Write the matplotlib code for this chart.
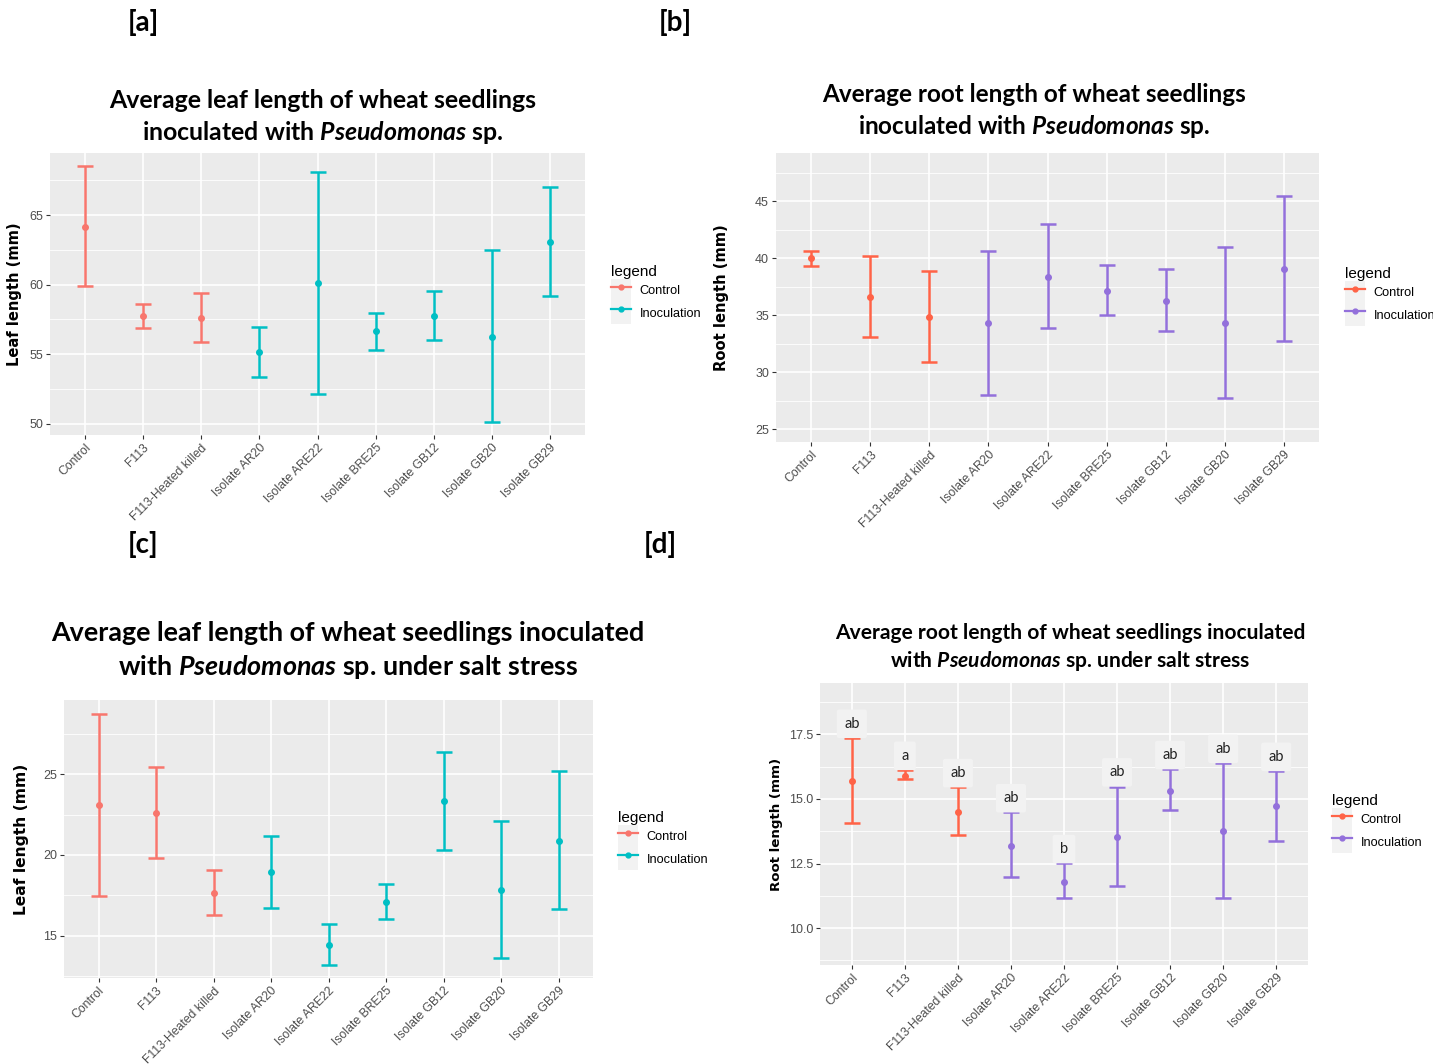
import matplotlib
matplotlib.use("Agg")
import matplotlib.pyplot as plt
import numpy as np
from matplotlib.legend_handler import HandlerLine2D
from matplotlib.lines import Line2D
from matplotlib.patches import Rectangle

plt.rcParams["mathtext.fontset"] = "custom"
plt.rcParams["mathtext.rm"] = "Lato:bold"
plt.rcParams["mathtext.it"] = "Lato:italic:bold"
plt.rcParams["mathtext.bf"] = "Lato:bold"

categories = ["Control", "F113", "F113-Heated killed", "Isolate AR20", "Isolate ARE22",
              "Isolate BRE25", "Isolate GB12", "Isolate GB20", "Isolate GB29"]
groups = ["Control"] * 3 + ["Inoculation"] * 6

# [a] leaf length, no stress
leaf_mean = [64.14, 57.73, 57.63, 55.14, 60.10, 56.63, 57.73, 56.20, 63.04]
leaf_low = [59.93, 56.87, 55.89, 53.35, 52.13, 55.31, 56.03, 50.10, 59.21]
leaf_high = [68.54, 58.64, 59.43, 56.96, 68.13, 57.97, 59.57, 62.46, 66.99]

# [b] root length, no stress
root_mean = [40.00, 36.65, 34.86, 34.34, 38.38, 37.11, 36.30, 34.34, 39.08]
root_low = [39.31, 33.12, 30.95, 28.06, 33.93, 35.00, 33.64, 27.72, 32.75]
root_high = [40.69, 40.20, 38.87, 40.69, 43.03, 39.39, 39.08, 41.01, 45.46]

# [c] leaf length, salt stress
salt_leaf_mean = [23.09, 22.60, 17.65, 18.92, 14.40, 17.09, 23.34, 17.81, 20.89]
salt_leaf_low = [17.48, 19.80, 16.25, 16.70, 13.15, 16.03, 20.30, 13.58, 16.64]
salt_leaf_high = [28.76, 25.45, 19.09, 21.16, 15.70, 18.22, 26.38, 22.08, 25.21]

# [d] root length, salt stress
salt_root_mean = [15.71, 15.90, 14.50, 13.17, 11.80, 13.52, 15.32, 13.74, 14.72]
salt_root_low = [14.08, 15.76, 13.59, 11.96, 11.15, 11.64, 14.56, 11.15, 13.38]
salt_root_high = [17.36, 16.12, 15.45, 14.48, 12.51, 15.48, 16.15, 16.39, 16.08]
salt_root_letters = ["ab", "a", "ab", "ab", "b", "ab", "ab", "ab", "ab"]

teal = {"Control": "#F8766D", "Inoculation": "#00BFC4"}
purple = {"Control": "#FF6347", "Inoculation": "#9370DB"}

NARROW = ["Liberation Sans", "DejaVu Sans"]

W, H = 1433, 1064
fig = plt.figure(figsize=(W / 100, H / 100), dpi=100)


def fx(px):
    return px / W


def fy(py):
    return 1 - py / H


class KeyHandler(HandlerLine2D):
    def create_artists(self, legend, orig_handle, xdescent, ydescent, width, height, fontsize, trans):
        bg = Rectangle((-xdescent, -ydescent), width, height, facecolor="#F2F2F2",
                       edgecolor="none", transform=trans)
        return [bg] + super().create_artists(legend, orig_handle, xdescent, ydescent,
                                             width, height, fontsize, trans)


def panel(box, mean, low, high, colors, ylim, yticks, ylabel, label_x, label_size, legend_xy):
    left, top, right, bottom = box
    ax = fig.add_axes([fx(left), fy(bottom), fx(right - left), (bottom - top) / H])
    ax.set_facecolor("#EBEBEB")
    x = np.arange(1, len(categories) + 1)
    mean, low, high = np.asarray(mean), np.asarray(low), np.asarray(high)
    handles = []
    for grp, col in colors.items():
        m = np.array([g == grp for g in groups])
        ax.errorbar(x[m], mean[m], yerr=[mean[m] - low[m], high[m] - mean[m]], fmt="o",
                    color=col, ms=4, lw=1.8, capsize=6, capthick=1.8, zorder=3)
        handles.append(Line2D([], [], color=col, marker="o", ms=3.5, lw=1.6, label=grp))
    ax.set_xlim(0.4, len(categories) + 0.6)
    ax.set_ylim(*ylim)
    ax.set_xticks(x)
    ax.set_xticklabels(categories, rotation=45, ha="right", rotation_mode="anchor",
                       family=NARROW, fontsize=8.8)
    ax.set_yticks(yticks)
    ax.set_yticklabels([str(t) for t in yticks], family=NARROW, fontsize=9)
    step = yticks[1] - yticks[0]
    minor = np.arange(yticks[0] - step / 2, ylim[1], step)
    ax.set_yticks(minor[(minor > ylim[0])], minor=True)
    ax.grid(which="major", color="white", lw=1.2)
    ax.grid(which="minor", axis="y", color="white", lw=0.6)
    ax.set_axisbelow(True)
    for s in ax.spines.values():
        s.set_visible(False)
    ax.tick_params(which="major", colors="#333333", length=3, labelcolor="#4D4D4D", pad=2)
    ax.tick_params(which="minor", length=0)
    ax.set_ylabel(ylabel, fontweight="bold", fontsize=label_size, family="DejaVu Sans")
    ax.yaxis.set_label_coords((label_x - left) / (right - left), 0.5)
    ax.legend(handles=handles, handler_map={Line2D: KeyHandler()}, title="legend",
              loc="upper left", bbox_to_anchor=(fx(legend_xy[0]), fy(legend_xy[1])),
              bbox_transform=fig.transFigure, frameon=False, numpoints=1,
              handlelength=1.5, handleheight=2.3, labelspacing=0.0, handletextpad=0.7,
              borderpad=0, alignment="left",
              prop={"family": NARROW, "size": 9.2},
              title_fontproperties={"family": NARROW, "size": 11})
    return ax


def title(cx, y1, y2, line1, line2, size):
    fig.text(fx(cx), fy(y1), line1, ha="center", va="center", fontsize=size,
             family="Lato", fontweight="bold")
    fig.text(fx(cx), fy(y2), line2, ha="center", va="center", fontsize=size,
             family="Lato", fontweight="bold")


for lab, cx, cy in [("[a]", 143, 22), ("[b]", 675, 22), ("[c]", 143, 545), ("[d]", 660, 545)]:
    fig.text(fx(cx), fy(cy), lab, ha="center", va="center", fontsize=20,
             family="Lato", fontweight="bold")

panel((50, 153, 585, 435), leaf_mean, leaf_low, leaf_high, teal, (49.18, 69.47),
      [50, 55, 60, 65], "Leaf length (mm)", 22, 10.6, (605, 259))
title(323, 100, 132, "Average leaf length of wheat seedlings",
      r"inoculated with $\mathit{Pseudomonas}$ sp.", 17.9)

panel((776, 153, 1319, 442), root_mean, root_low, root_high, purple, (23.9, 49.25),
      [25, 30, 35, 40, 45], "Root length (mm)", 729, 10.6, (1339, 261))
title(1034, 94, 126, "Average root length of wheat seedlings",
      r"inoculated with $\mathit{Pseudomonas}$ sp.", 17.5)

panel((64, 700, 593, 978), salt_leaf_mean, salt_leaf_low, salt_leaf_high, teal, (12.37, 29.6),
      [15, 20, 25], "Leaf length (mm)", 29, 11.2, (612, 805))
title(348, 633, 667, "Average leaf length of wheat seedlings inoculated",
      r"with $\mathit{Pseudomonas}$ sp. under salt stress", 19.4)

axd = panel((820, 683, 1308, 965), salt_root_mean, salt_root_low, salt_root_high, purple,
            (8.57, 19.49), [10.0, 12.5, 15.0, 17.5], "Root length (mm)", 783, 9.6, (1326, 788))
axd.set_yticklabels(["10.0", "12.5", "15.0", "17.5"])
for i, (top, letter) in enumerate(zip(salt_root_high, salt_root_letters)):
    axd.text(i + 1, top + 0.55, letter, ha="center", va="center", fontsize=10.5, family="Lato",
             color="#222222", zorder=4,
             bbox=dict(boxstyle="round,pad=0.5,rounding_size=0.15", fc="#F2F2F2", ec="none"))
title(1070, 633, 661, "Average root length of wheat seedlings inoculated",
      r"with $\mathit{Pseudomonas}$ sp. under salt stress", 15.1)

fig.savefig("out.png", dpi=100)
